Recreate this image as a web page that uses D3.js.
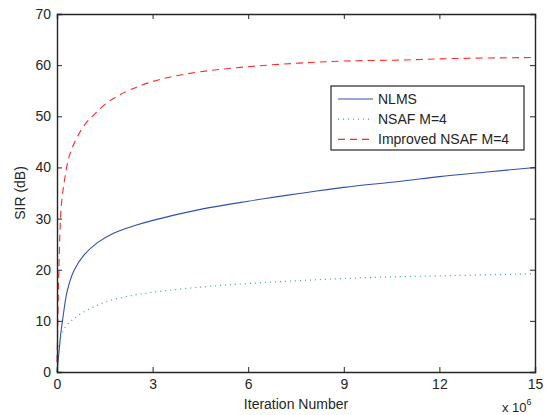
<!DOCTYPE html>
<html><head><meta charset="utf-8">
<script src="https://cdn.jsdelivr.net/npm/d3@7"></script>
<style>body{margin:0;background:#fff}</style>
</head><body>
<svg id="c" width="547" height="415"></svg>
<script>
const xTicks = [0, 3, 6, 9, 12, 15];
const yTicks = [0, 10, 20, 30, 40, 50, 60, 70];
const seriesNames = ["NLMS", "NSAF M=4", "Improved NSAF M=4"];
// x in units of 1e6 iterations, y in dB
const nlmsX = [0, 0.03, 0.12, 0.17, 0.32, 0.53, 0.85, 1.27, 1.79, 2.42, 3.04, 4.5, 6, 7.6, 9, 10.8, 12, 13.5, 15];
const nlmsY = [0, 1.7, 7.6, 9.9, 15.8, 19.8, 22.9, 25.3, 27.2, 28.6, 29.7, 31.8, 33.4, 34.9, 36.1, 37.3, 38.2, 39.1, 40.0];
const nsafX = [0, 0.06, 0.25, 0.5, 0.8, 1.21, 1.68, 2.31, 3.0, 4.5, 6, 8, 10, 12, 15];
const nsafY = [2, 5.6, 8.7, 10.3, 11.6, 12.9, 14.0, 14.9, 15.6, 16.6, 17.3, 18.0, 18.5, 18.8, 19.2];
const impX = [0, 0.02, 0.04, 0.06, 0.09, 0.135, 0.22, 0.38, 0.59, 0.9, 1.21, 1.58, 2.0, 2.42, 2.9, 3.5, 4.5, 6, 7.6, 9, 10.8, 12.5, 15];
const impY = [2, 8, 15, 20, 27, 32.5, 36.9, 42.1, 45.4, 48.6, 50.6, 52.7, 54.3, 55.5, 56.6, 57.6, 58.7, 59.7, 60.4, 60.8, 61.0, 61.3, 61.5];

const colors = ["#3050b0", "#3aa58f", "#ff2a2a"];
const dashes = [null, "1,4", "7,5"];

const svg = d3.select("#c");
const L = 57, R = 535, T = 14, B = 372;
const x = d3.scaleLinear().domain([0, 15]).range([L, R]);
const y = d3.scaleLinear().domain([0, 70]).range([B, T]);
const font = "Liberation Sans, Arial, sans-serif";

const line = d3.line().x(d => x(d[0])).y(d => y(d[1])).curve(d3.curveCatmullRom.alpha(0.5));
const data = [d3.zip(nlmsX, nlmsY), d3.zip(nsafX, nsafY), d3.zip(impX, impY)];
data.forEach((d, i) => {
  svg.append("path").attr("d", line(d)).attr("fill", "none")
    .attr("stroke", colors[i]).attr("stroke-width", i === 1 ? 1.2 : 1.1)
    .attr("stroke-dasharray", dashes[i]);
});

// axes
const ax = svg.append("g").attr("transform", `translate(0,${B})`)
  .call(d3.axisBottom(x).tickValues(xTicks).tickSize(-5).tickPadding(7).tickFormat(d3.format("d")));
const axTop = svg.append("g").attr("transform", `translate(0,${T})`)
  .call(d3.axisTop(x).tickValues(xTicks).tickSize(-5).tickFormat(""));
const ay = svg.append("g").attr("transform", `translate(${L},0)`)
  .call(d3.axisLeft(y).tickValues(yTicks).tickSize(-5).tickPadding(6));
const ayR = svg.append("g").attr("transform", `translate(${R},0)`)
  .call(d3.axisRight(y).tickValues(yTicks).tickSize(-5).tickFormat(""));
[ax, axTop, ay, ayR].forEach(g => {
  g.selectAll("path").attr("stroke", "#262626").attr("stroke-width", 1.4);
  g.selectAll("line").attr("stroke", "#262626");
  g.selectAll("text").attr("font-family", font).attr("font-size", 14).attr("fill", "#262626");
});

svg.append("text").attr("x", 296).attr("y", 409).attr("text-anchor", "middle")
  .attr("font-family", font).attr("font-size", 14).attr("fill", "#262626").text("Iteration Number");
svg.append("text").attr("transform", "translate(25,193) rotate(-90)").attr("text-anchor", "middle")
  .attr("font-family", font).attr("font-size", 14).attr("fill", "#262626").text("SIR (dB)");
const xl = svg.append("text").attr("x", 502).attr("y", 412)
  .attr("font-family", font).attr("font-size", 13).attr("fill", "#262626");
xl.append("tspan").text("x 10");
xl.append("tspan").attr("dy", -7).attr("font-size", 9).text("6");

// legend
const lg = svg.append("g");
lg.append("rect").attr("x", 331).attr("y", 86).attr("width", 193).attr("height", 64)
  .attr("fill", "#fff").attr("stroke", "#262626").attr("stroke-width", 1.2);
seriesNames.forEach((n, i) => {
  const yy = 99 + i * 20.2;
  lg.append("line").attr("x1", 338).attr("x2", 373).attr("y1", yy).attr("y2", yy)
    .attr("stroke", colors[i]).attr("stroke-width", 1.2).attr("stroke-dasharray", dashes[i]);
  lg.append("text").attr("x", 378).attr("y", yy + 5).attr("font-family", font)
    .attr("font-size", 14).attr("fill", "#262626").text(n);
});
</script>
</body></html>
